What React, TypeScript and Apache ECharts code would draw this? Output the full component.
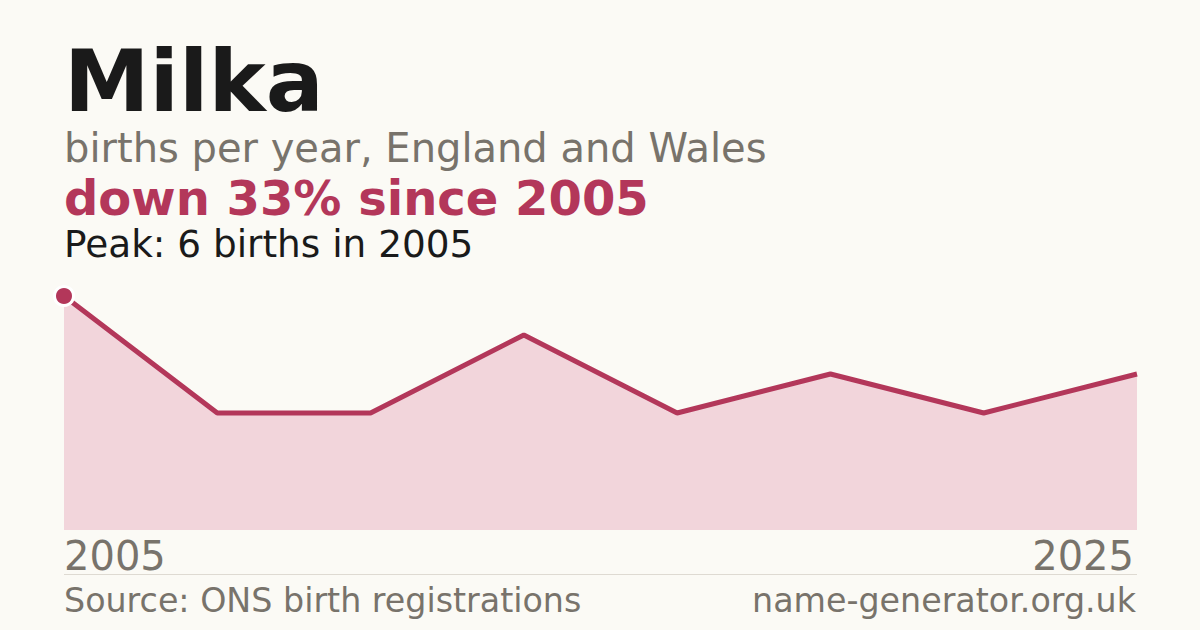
import React, { useEffect, useRef } from "react";
import * as echarts from "echarts";

const categories = ["2005", "2008", "2011", "2014", "2017", "2020", "2023", "2025"];
const births = [6, 3, 3, 5, 3, 4, 3, 4];
const title = "Milka";
const subtitle = "births per year, England and Wales";
const headline = "down 33% since 2005";
const peakNote = "Peak: 6 births in 2005";
const sourceNote = "Source: ONS birth registrations";
const siteNote = "name-generator.org.uk";

const FONT = "'DejaVu Sans', sans-serif";
const RED = "#b3375a";
const GRAY = "#78736b";

export default function App() {
  const ref = useRef<HTMLDivElement>(null);
  useEffect(() => {
    document.body.style.margin = "0";
    const chart = echarts.init(ref.current!, null, { renderer: "svg" });
    const last = categories.length - 1;
    chart.setOption({
      animation: false,
      backgroundColor: "#fbfaf5",
      grid: { left: 64, right: 63, top: 296, bottom: 100 },
      xAxis: {
        type: "category",
        data: categories,
        boundaryGap: false,
        axisLine: { show: false },
        axisTick: { show: false },
        splitLine: { show: false },
        axisLabel: {
          interval: (i: number) => i === 0 || i === last,
          alignMinLabel: "left",
          alignMaxLabel: "right",
          color: GRAY,
          fontFamily: FONT,
          fontSize: 40,
          margin: 6,
          padding: [0, 3, 0, 0],
        },
      },
      yAxis: {
        type: "value",
        min: 0,
        max: 6,
        show: false,
        splitLine: { show: false },
      },
      series: [
        {
          type: "line",
          data: births,
          symbol: "circle",
          showSymbol: true,
          symbolSize: (_v: number, p: any) => (p.dataIndex === 0 ? 19 : 0),
          itemStyle: { color: RED, borderColor: "#ffffff", borderWidth: 3 },
          lineStyle: { color: RED, width: 5 },
          areaStyle: { color: "#f2d5db", opacity: 1 },
          z: 3,
        },
      ],
      graphic: [
        {
          type: "text",
          left: 64,
          top: 38,
          style: { text: title, font: `bold 86px ${FONT}`, fill: "#1a1a1a" },
        },
        {
          type: "text",
          left: 64,
          top: 128,
          style: { text: subtitle, font: `40px ${FONT}`, fill: GRAY },
        },
        {
          type: "text",
          left: 64,
          top: 174,
          style: { text: headline, font: `bold 48px ${FONT}`, fill: RED },
        },
        {
          type: "text",
          left: 64,
          top: 225,
          style: { text: peakNote, font: `37.4px ${FONT}`, fill: "#1a1a1a" },
        },
        {
          type: "line",
          shape: { x1: 64, y1: 574.5, x2: 1137, y2: 574.5 },
          style: { stroke: "#dedad2", lineWidth: 1 },
        },
        {
          type: "text",
          left: 64,
          top: 584,
          style: { text: sourceNote, font: `33.3px ${FONT}`, fill: GRAY },
        },
        {
          type: "text",
          right: 64,
          top: 584,
          style: { text: siteNote, font: `33.3px ${FONT}`, fill: GRAY },
        },
      ],
    });
    return () => chart.dispose();
  }, []);
  return (
    <div
      ref={ref}
      style={{ position: "fixed", left: 0, top: 0, width: 1200, height: 630 }}
    />
  );
}
